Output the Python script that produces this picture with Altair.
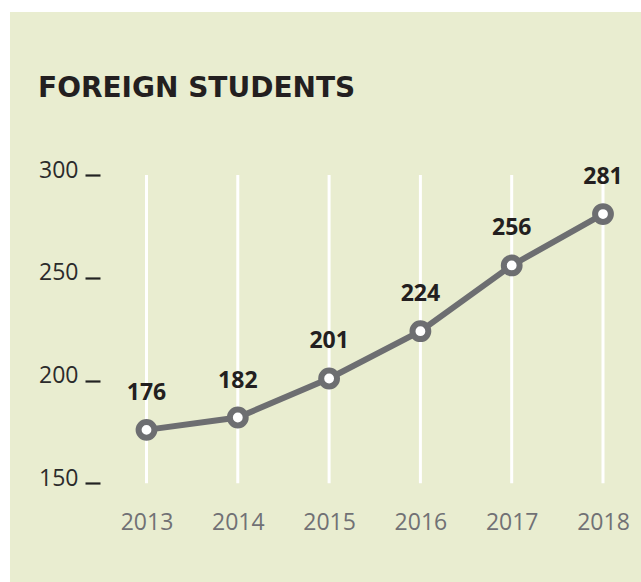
import altair as alt
import pandas as pd

years = [2013, 2014, 2015, 2016, 2017, 2018]
students = [176, 182, 201, 224, 256, 281]
y_ticks = [150, 200, 250, 300]
title_text = "FOREIGN STUDENTS"

df = pd.DataFrame({"year": years, "students": students})

BG = "#e9edd0"
LINE = "#6d6e71"
FONT = "Open Sans"

x_enc = alt.X(
    "year:Q",
    scale=alt.Scale(domain=[2013, 2018], range=[136.5, 593]),
    axis=alt.Axis(
        values=years, format="d", title=None, grid=False, domain=False,
        ticks=False, tickSize=0, labelPadding=0, offset=-60,
        labelBaseline="middle", labelFontSize=23, labelColor="#717175",
        labelFont=FONT, labelFlush=False,
    ),
)
y_scale = alt.Scale(domain=[150, 300], range=[471.3, 163])

base = alt.Chart(df)

grid = base.mark_rule(color="white", strokeWidth=3).encode(
    x=x_enc,
    y=alt.datum(150, scale=y_scale, type="quantitative",
                axis=alt.Axis(values=y_ticks, title=None, grid=False, domain=False,
                              tickSize=15, tickWidth=2.2, tickColor="#222222",
                              labelPadding=7, labelFontSize=23, labelColor="#2b2b2b",
                              labelFont=FONT, offset=-90, labelOffset=-5,
                              labelFlush=False)),
    y2=alt.datum(300),
)

y_enc = alt.Y("students:Q", scale=y_scale)

line = base.mark_line(color=LINE, strokeWidth=6).encode(x="year:Q", y=y_enc)

points = base.mark_point(
    shape="circle", filled=True, fill="white", stroke=LINE, strokeWidth=6,
    size=250, opacity=1,
).encode(x="year:Q", y=y_enc)

labels = base.mark_text(
    font=FONT, fontSize=23, fontWeight="bold", color="#231f20",
    baseline="alphabetic", dy=-30,
).encode(x="year:Q", y=y_enc, text="students:Q")

chart = (
    alt.layer(grid, line, points, labels)
    .properties(
        width=631,
        height=570,
        autosize=alt.AutoSizeParams(type="none"),
        padding={"left": 10, "top": 12, "right": 0, "bottom": 0},
        background="white",
        title=alt.TitleParams(
            text=title_text, anchor="start", frame="group", font="DejaVu Sans",
            fontSize=28, fontWeight="bold", color="#231f20", dx=28, dy=113,
            offset=0, baseline="alphabetic",
        ),
    )
    .configure_view(fill=BG, stroke=None)
)

chart.save("out.html", embed_options={"renderer": "svg", "actions": False})
